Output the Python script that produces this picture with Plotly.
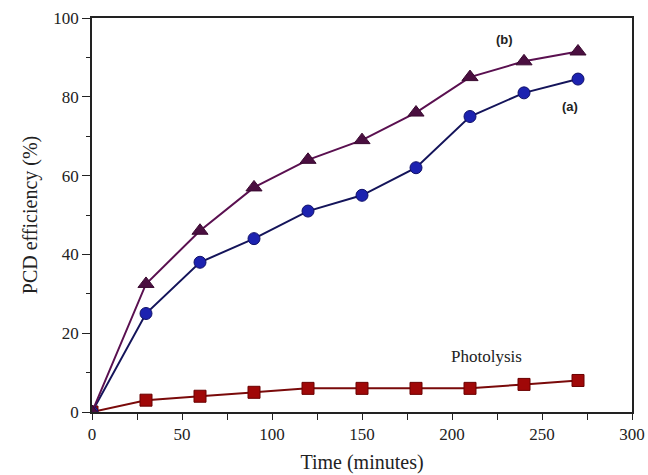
import plotly.graph_objects as go

time_min = [0, 30, 60, 90, 120, 150, 180, 210, 240, 270]
series_a = [0, 25, 38, 44, 51, 55, 62, 75, 81, 84.5]
series_b = [0, 32.5, 46, 57, 64, 69, 76, 85, 89, 91.5]
photolysis = [0, 3, 4, 5, 6, 6, 6, 6, 7, 8]

serif = "Liberation Serif, Times New Roman, serif"

fig = go.Figure()
fig.add_trace(go.Scatter(x=time_min, y=photolysis, mode="lines+markers",
                         line=dict(color="#7a0a0a", width=2),
                         marker=dict(symbol="square", size=12, color="#a00808",
                                     line=dict(color="#6a0000", width=1))))
fig.add_trace(go.Scatter(x=time_min, y=series_a, mode="lines+markers",
                         line=dict(color="#14145a", width=2),
                         marker=dict(symbol="circle", size=12, color="#1c22b0",
                                     line=dict(color="#10106a", width=1))))
fig.add_trace(go.Scatter(x=time_min, y=series_b, mode="lines+markers",
                         line=dict(color="#5a1050", width=2),
                         marker=dict(symbol="triangle-up", size=14, color="#4a0f40",
                                     line=dict(color="#3a0a30", width=1))))

fig.add_annotation(x=229, y=94.5, text="<b>(b)</b>", showarrow=False,
                   font=dict(family="Liberation Sans, Arial", size=13, color="#222"))
fig.add_annotation(x=265.5, y=77.5, text="<b>(a)</b>", showarrow=False,
                   font=dict(family="Liberation Sans, Arial", size=13, color="#222"))
fig.add_annotation(x=219, y=14, text="Photolysis", showarrow=False,
                   font=dict(family=serif, size=17, color="#222"))

axis_common = dict(showline=True, linecolor="#222", linewidth=1.5, mirror=True,
                   ticks="outside", tickwidth=1.3, tickcolor="#222",
                   showgrid=False, zeroline=False, automargin=False,
                   tickfont=dict(family=serif, size=17, color="#222"))

fig.update_layout(
    width=648, height=475,
    margin=dict(l=92, r=16, t=18, b=63),
    paper_bgcolor="white", plot_bgcolor="white",
    showlegend=False,
    xaxis=dict(range=[0, 300], dtick=50, ticklen=6,
               minor=dict(ticks="outside", dtick=25, ticklen=6, tickwidth=1.3, tickcolor="#222"),
               title=dict(text="Time (minutes)", standoff=12,
                          font=dict(family=serif, size=20, color="#222")),
               **axis_common),
    yaxis=dict(range=[0, 100], dtick=20, ticklen=8,
               minor=dict(ticks="outside", dtick=10, ticklen=4, tickwidth=1.3, tickcolor="#222"),
               title=dict(text="PCD efficiency (%)", standoff=10,
                          font=dict(family=serif, size=20, color="#222")),
               **axis_common),
)

fig.write_html("out.html", config={"displayModeBar": False},
               post_script="document.body.style.margin='0';document.body.style.overflow='hidden';")
